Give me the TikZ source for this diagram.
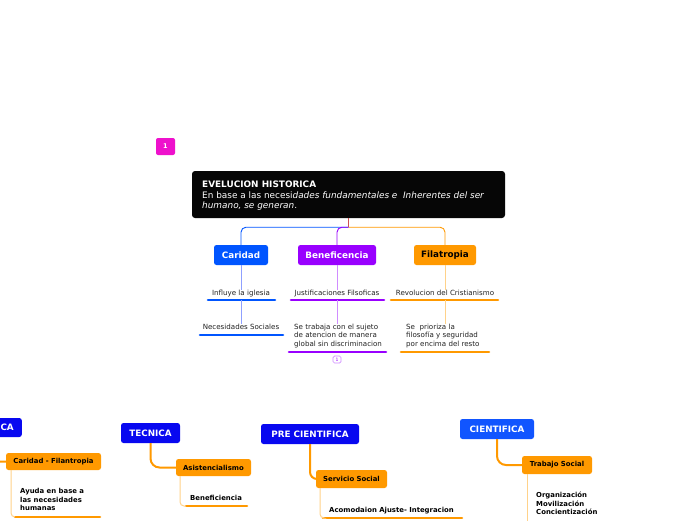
\documentclass[tikz,border=0pt]{standalone}
\usepackage{fontspec}
\setmainfont{DejaVu Sans}
\definecolor{pinkc}{HTML}{EE11CC}
\definecolor{headc}{HTML}{060606}
\definecolor{blueA}{HTML}{0055FF}
\definecolor{blueB}{HTML}{0808F0}
\definecolor{blueC}{HTML}{1155FF}
\definecolor{purp}{HTML}{9900FF}
\definecolor{orng}{HTML}{FF9900}
\definecolor{lblue}{HTML}{8FA0FF}
\definecolor{lpurp}{HTML}{D08CFF}
\definecolor{lorng}{HTML}{FFD28A}
\definecolor{stubc}{HTML}{D05050}
\definecolor{txt}{HTML}{222222}
\begin{document}
\begin{tikzpicture}[x=1pt,y=-1pt,
  mainbox/.style={rounded corners=2.5pt, inner sep=0pt, font=\fontsize{8.8}{10}\selectfont\bfseries},
  subbox/.style={rounded corners=2.5pt, inner sep=0pt, fill=orng, text=black, font=\fontsize{6.9}{8}\selectfont\bfseries},
  small/.style={inner sep=0pt, text=txt, font=\fontsize{7.1}{8.6}\selectfont, align=left},
  smallb/.style={inner sep=0pt, text=black, font=\fontsize{6.9}{8.6}\selectfont\bfseries, align=left},
  uline/.style={line width=2.6pt, line cap=round},
  thin/.style={line width=0.9pt},
  branch/.style={line width=2pt, orng, rounded corners=9pt},
  leaf/.style={line width=1pt, lorng, rounded corners=4pt}]
\useasboundingbox (0,0) rectangle (696,520);
\clip (0,0) rectangle (696,520);
\fill[white] (0,0) rectangle (696,520);

% marker
\node[rounded corners=2pt, fill=pinkc, minimum width=19pt, minimum height=17pt, inner sep=0pt,
  text=white, font=\fontsize{6.5}{8}\selectfont\bfseries] (mark) at (165.5,146.5) {1};

% header
\node[rounded corners=3pt, fill=headc, minimum width=313pt, minimum height=47pt, inner sep=0pt] (header) at (348.5,194.5) {};
\node[anchor=north west, align=left, inner sep=0pt, text=white, font=\fontsize{8.9}{10.8}\selectfont] (htext) at (202,180.5)
  {\textbf{EVELUCION HISTORICA}\\En base a las necesi\textit{dades fundamentales e\ \ Inherentes del ser}\\\textit{humano, se generan}.};

% level 1
\node[mainbox, fill=blueA, text=white, minimum width=54pt, minimum height=20pt] (caridad) at (241,255) {Caridad};
\node[mainbox, fill=purp, text=white, minimum width=78pt, minimum height=20pt] (benef) at (337,255) {Beneficencia};
\node[mainbox, fill=orng, text=black, minimum width=62pt, minimum height=20pt] (filat) at (445,255) {Filatropia};

\coordinate (hub) at ([yshift=-9pt]header.south);
\draw[thin, stubc] (header.south) -- (hub);
\draw[thin, blueA, rounded corners=5pt] (hub) -| (caridad.north);
\draw[thin, purp, rounded corners=5pt] (hub) -| (benef.north);
\draw[thin, orng, rounded corners=5pt] (hub) -| (filat.north);

% Caridad branch
\node[small, anchor=base] (influye) at (241,295.5) {Influye la iglesia};
\coordinate (u1a) at (208,300); \coordinate (u1b) at (275,300); \coordinate (u1m) at (241,300);
\draw[uline, blueA] (u1a) -- (u1b);
\node[small, anchor=base] (necsoc) at (241,329.5) {Necesidades Sociales};
\coordinate (u2a) at (200,335); \coordinate (u2b) at (283,335);
\draw[uline, blueA] (u2a) -- (u2b);
\draw[thin, lblue] (caridad.south) -- (influye.north);
\draw[thin, lblue] (u1m) -- (necsoc.north);

% Beneficencia branch
\node[small, anchor=base] (justif) at (337,295.5) {Justificaciones Filsoficas};
\coordinate (u3a) at (291,300); \coordinate (u3b) at (384,300); \coordinate (u3m) at (337,300);
\draw[uline, purp] (u3a) -- (u3b);
\node[small, anchor=north west] (setrab) at (294,323.5) {Se trabaja con el sujeto\\de atencion de manera\\global sin discriminacion};
\coordinate (u4a) at (289,352); \coordinate (u4b) at (386,352);
\draw[uline, purp] (u4a) -- (u4b);
\draw[thin, lpurp] (benef.south) -- (justif.north);
\draw[thin, lpurp] (u3m) -- (u3m |- setrab.north);
\node[draw=lpurp, line width=0.7pt, rounded corners=1.5pt, minimum width=8pt, minimum height=7pt, inner sep=0pt,
  text=purp, font=\fontsize{4.5}{5}\selectfont] (note) at (337,359.5) {1};

% Filatropia branch
\node[small, anchor=base] (revol) at (445,295.5) {Revolucion del Cristianismo};
\coordinate (u5a) at (391,300); \coordinate (u5b) at (498,300); \coordinate (u5m) at (445,300);
\draw[uline, orng] (u5a) -- (u5b);
\node[small, anchor=north west] (seprio) at (406,323.5) {Se\ \ prioriza la\\filosofía y seguridad\\por encima del resto};
\coordinate (u6a) at (401,352); \coordinate (u6b) at (489,352);
\draw[uline, orng] (u6a) -- (u6b);
\draw[thin, lorng] (filat.south) -- (revol.north);
\draw[thin, lorng] (u5m) -- (u5m |- seprio.north);

% bottom stages
\node[mainbox, fill=blueB, text=white, minimum height=19pt, inner xsep=8pt, anchor=east] (pretec) at (22,427.5) {PRE TECNICA};
\node[mainbox, fill=blueB, text=white, minimum width=59pt, minimum height=20pt] (tecnica) at (150.5,433) {TECNICA};
\node[mainbox, fill=blueB, text=white, minimum width=98pt, minimum height=20pt] (precien) at (310,434) {PRE CIENTIFICA};
\node[mainbox, fill=blueC, text=white, minimum width=74pt, minimum height=20pt] (cienti) at (497,429) {CIENTIFICA};

\node[subbox, minimum width=95pt, minimum height=17pt] (carfil) at (53.5,461.5) {Caridad - Filantropia};
\node[subbox, minimum width=75pt, minimum height=17pt] (asis) at (213.5,467.5) {Asistencialismo};
\node[subbox, minimum width=71pt, minimum height=18pt] (servsoc) at (351.5,479) {Servicio Social};
\node[subbox, minimum width=70pt, minimum height=18pt] (trabsoc) at (557,465) {Trabajo Social};

\draw[branch] (pretec.south) |- (carfil.west);
\draw[branch] (tecnica.south) |- (asis.west);
\draw[branch, rounded corners=7pt] (precien.south) |- (servsoc.west);
\draw[branch] (cienti.south) |- (trabsoc.west);

% leaves
\node[smallb, anchor=north west] (ayuda) at (20,488) {Ayuda en base a\\las necesidades\\humanas};
\coordinate (u7a) at (15,517); \coordinate (u7b) at (100,517);
\draw[uline, orng] (u7a) -- (u7b);
\draw[leaf] (carfil.south west -| 11,0) |- (u7a);

\node[smallb, anchor=base west] (benefb) at (190,500.5) {Beneficiencia};
\coordinate (u8a) at (186,506); \coordinate (u8b) at (247,506);
\draw[uline, orng] (u8a) -- (u8b);
\draw[leaf] (asis.south west -| 180,0) |- (u8a);

\node[smallb, anchor=base west] (acomod) at (329,512.5) {Acomodaion Ajuste- Integracion};
\coordinate (u9a) at (323,518); \coordinate (u9b) at (462,518);
\draw[uline, orng] (u9a) -- (u9b);
\draw[leaf] (servsoc.south west -| 320,0) |- (u9a);

\node[smallb, anchor=north west] (organiz) at (536,492) {Organización\\Movilización\\Concientización};
\coordinate (u10) at (527,540);
\draw[leaf] (trabsoc.south west -| 527,0) -- (u10);
\end{tikzpicture}
\end{document}
